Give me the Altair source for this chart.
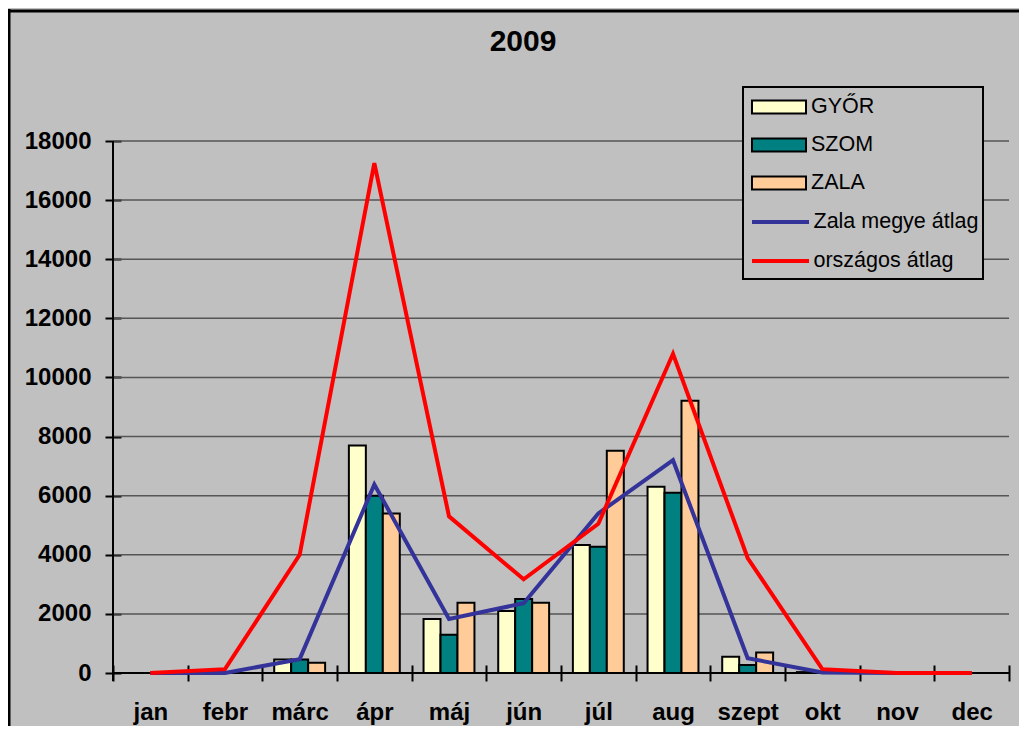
import altair as alt
import pandas as pd

# ---------------- data ----------------
months = ["jan", "febr", "márc", "ápr", "máj", "jún", "júl", "aug", "szept", "okt", "nov", "dec"]
gyor = [0, 0, 460, 7700, 1830, 2100, 4330, 6300, 550, 30, 0, 0]
szom = [0, 0, 460, 6000, 1290, 2500, 4270, 6100, 270, 40, 0, 0]
zala = [0, 0, 350, 5400, 2380, 2380, 7520, 9210, 690, 0, 0, 0]
zala_megye_atlag = [0, 0, 470, 6380, 1830, 2360, 5400, 7200, 500, 20, 0, 0]
orszagos_atlag = [0, 130, 4000, 17250, 5300, 3170, 5050, 10800, 3890, 130, 0, 0]

bar_series = ["GYŐR", "SZOM", "ZALA"]
line_series = ["Zala megye átlag", "országos átlag"]
bar_colors = ["#FFFFCC", "#008080", "#FFCC99"]
line_colors = ["#333399", "#FF0000"]
y_ticks = [0, 2000, 4000, 6000, 8000, 10000, 12000, 14000, 16000, 18000]
title_text = "2009"

# ---------------- tables ----------------
bar_rows = []
for s, vals in zip(bar_series, [gyor, szom, zala]):
    for m, v in zip(months, vals):
        bar_rows.append({"month": m, "series": s, "value": v})
bar_df = pd.DataFrame(bar_rows)

line_rows = []
for s, vals in zip(line_series, [zala_megye_atlag, orszagos_atlag]):
    for i, (m, v) in enumerate(zip(months, vals)):
        line_rows.append({"month": m, "series": s, "value": v, "idx": i})
line_df = pd.DataFrame(line_rows)

grid_df = pd.DataFrame({"value": y_ticks[1:]})
zero_df = pd.DataFrame({"value": [0]})
one = pd.DataFrame({"k": [0]})

W, H = 896, 532
FONT = "Liberation Sans"
BG = "#C0C0C0"

y_scale = alt.Scale(domain=[0, 18000], nice=False, zero=True)
x_scale = alt.Scale(domain=months, paddingInner=0, paddingOuter=0)

x_axis = alt.Axis(
    title=None, labelAngle=0, labelFont=FONT, labelFontSize=24, labelFontWeight="bold",
    labelColor="black", labelPadding=19, domain=False, ticks=True, tickBand="extent",
    tickSize=16, tickColor="black", tickWidth=2, offset=-8, grid=False,
)
y_axis = alt.Axis(
    values=y_ticks, title=None, format="d", labelFont=FONT, labelFontSize=24,
    labelFontWeight="bold", labelColor="black", labelPadding=14, domain=False,
    tickSize=16, tickColor="black", tickWidth=2, offset=-8, grid=False,
)

# decorations
border_left = alt.Chart(one).mark_rule(color="black", strokeWidth=3).encode(
    x=alt.value(-104), y=alt.value(-132), y2=alt.value(H + 53)
)
border_top = alt.Chart(one).mark_rule(color="black", strokeWidth=3).encode(
    x=alt.value(-105), x2=alt.value(W + 10), y=alt.value(-130)
)

gridlines = alt.Chart(grid_df).mark_rule(color="#555555", strokeWidth=1.5).encode(
    y=alt.Y("value:Q", scale=y_scale, title=None)
)

legend_box = alt.Chart(one).mark_rect(fill=BG, stroke="black", strokeWidth=2).encode(
    x=alt.value(630), x2=alt.value(870), y=alt.value(-54), y2=alt.value(138)
)

bars = alt.Chart(bar_df).mark_bar(stroke="black", strokeWidth=2).encode(
    x=alt.X("month:N", sort=months, scale=x_scale, axis=x_axis),
    xOffset=alt.XOffset("series:N", sort=bar_series,
                        scale=alt.Scale(domain=bar_series, paddingInner=0, paddingOuter=0.7)),
    y=alt.Y("value:Q", scale=y_scale, axis=y_axis, title=None),
    fill=alt.Fill(
        "series:N", sort=bar_series,
        scale=alt.Scale(domain=bar_series, range=bar_colors),
        legend=alt.Legend(
            title=None, orient="none", legendX=655, legendY=-45, direction="vertical",
            symbolType="M-2.7,-0.65H2.7V0.65H-2.7Z", symbolSize=400,
            symbolStrokeColor="black", symbolStrokeWidth=2, symbolOpacity=1,
            labelFont=FONT, labelFontSize=21.5, labelColor="black", labelOffset=21,
            labelLimit=400, rowPadding=16, padding=0,
        ),
    ),
)

baseline = alt.Chart(zero_df).mark_rule(color="black", strokeWidth=2).encode(
    y=alt.Y("value:Q", scale=y_scale, title=None)
)

y_axis_line = alt.Chart(one).mark_rule(color="black", strokeWidth=2).encode(
    x=alt.value(0), y=alt.value(0), y2=alt.value(H + 8)
)

lines = alt.Chart(line_df).mark_line(strokeWidth=4).encode(
    x=alt.X("month:N", sort=months, scale=x_scale),
    y=alt.Y("value:Q", scale=y_scale, title=None),
    order=alt.Order("idx:Q"),
    stroke=alt.Stroke(
        "series:N", sort=line_series,
        scale=alt.Scale(domain=line_series, range=line_colors),
        legend=alt.Legend(
            title=None, orient="none", legendX=655.5, legendY=69, direction="vertical",
            symbolType="M-2.85,0H2.85", symbolSize=400, symbolStrokeWidth=4,
            symbolFillColor="transparent",
            labelFont=FONT, labelFontSize=21.5, labelColor="black", labelOffset=21,
            labelLimit=400, rowPadding=16, padding=0,
        ),
    ),
)

title = alt.Chart(one).mark_text(
    text=title_text, font=FONT, fontSize=30, fontWeight="bold", color="black",
    align="center", baseline="alphabetic",
).encode(x=alt.value(410), y=alt.value(-90))

chart = alt.layer(
    border_left, border_top, gridlines, legend_box, bars, baseline, y_axis_line, lines, title
).resolve_scale(fill="independent", stroke="independent").properties(
    width=W, height=H,
    padding={"left": 105, "top": 133, "right": 10, "bottom": 53},
    autosize=alt.AutoSizeParams(type="none"),
    background=BG,
).configure(font=FONT).configure_view(strokeWidth=0)

chart.save("out.html", embed_options={"renderer": "svg", "actions": False})
